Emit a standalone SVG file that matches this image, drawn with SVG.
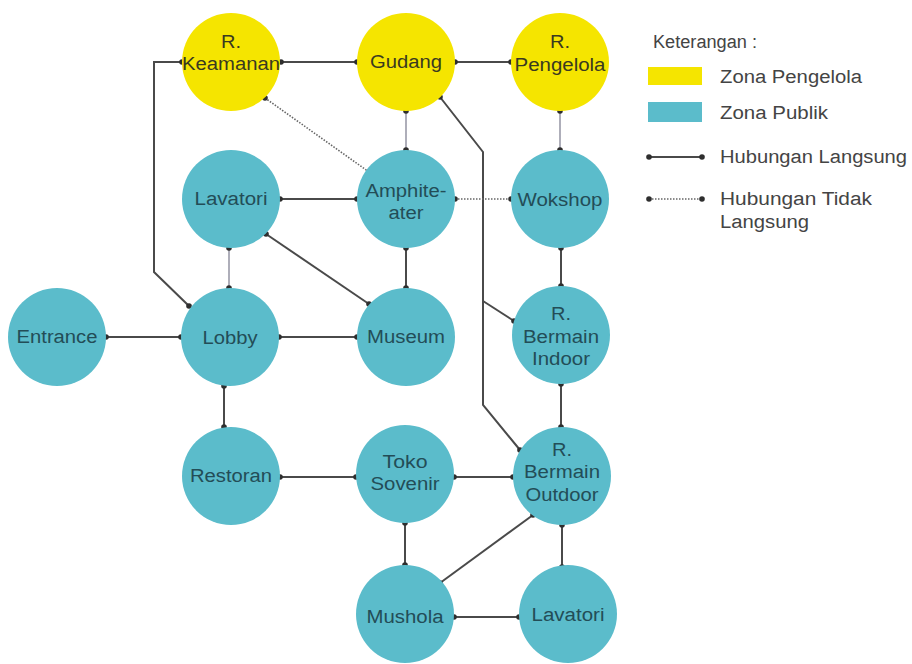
<svg xmlns="http://www.w3.org/2000/svg" width="912" height="664" viewBox="0 0 912 664">
<defs>
<marker id="dot" viewBox="0 0 6 6" refX="3" refY="3" markerWidth="6" markerHeight="6" markerUnits="userSpaceOnUse">
<circle cx="3" cy="3" r="2.8" fill="#2e2e2e"/>
</marker>
</defs>
<style>
.y{fill:#f5e500}
.t{fill:#5bbccb}
.lbl{font-family:"Liberation Sans",Arial,sans-serif;font-size:18px;text-anchor:middle}
.ly{fill:#3a3a20}
.lt{fill:#234d57}
.solid{fill:none;stroke:#4a4a4a;stroke-width:2;marker-start:url(#dot);marker-end:url(#dot)}
.thin{fill:none;stroke:#8c8c9c;stroke-width:1.4;marker-start:url(#dot);marker-end:url(#dot)}
.dotted{fill:none;stroke:#666;stroke-width:1.6;stroke-dasharray:1.5 1.5;marker-start:url(#dot);marker-end:url(#dot)}
.leg{font-family:"Liberation Sans",Arial,sans-serif;font-size:18px;fill:#444}
</style>
<rect width="912" height="664" fill="#ffffff"/>
<g id="connectors">
<path class="solid" d="M281,62 H357"/>
<path class="solid" d="M455,62 H511"/>
<path class="solid" d="M182,62 H154 V272 L189,306"/>
<path class="dotted" d="M265,98 L369,172"/>
<path class="thin" d="M406,111 V150"/>
<path class="thin" d="M560,111 V150"/>
<path class="solid" d="M440,97 L483,152 V405 L520,450"/>
<path class="solid" d="M483,301 L514,321" style="marker-start:none"/>
<path class="solid" d="M280,199 H357"/>
<path class="dotted" d="M455,199 H511"/>
<path class="thin" d="M229,248 V288"/>
<path class="solid" d="M266,234 L369,304"/>
<path class="solid" d="M406,248 V288"/>
<path class="solid" d="M561,248 V286"/>
<path class="solid" d="M106,337 H181"/>
<path class="solid" d="M279,337 H357"/>
<path class="solid" d="M561,384 V427"/>
<path class="solid" d="M224,386 V427"/>
<path class="solid" d="M280,477 H356"/>
<path class="solid" d="M454,477 H513"/>
<path class="solid" d="M405,523 V565"/>
<path class="solid" d="M533,515 L440,583"/>
<path class="solid" d="M562,525 V567"/>
<path class="solid" d="M454,617 H519"/>
</g>
<g id="n-keamanan"><circle class="y" cx="231" cy="62" r="49"/><text class="lbl ly" x="231" y="48" textLength="20" lengthAdjust="spacingAndGlyphs">R.</text><text class="lbl ly" x="231" y="70" textLength="98" lengthAdjust="spacingAndGlyphs">Keamanan</text></g>
<g id="n-gudang"><circle class="y" cx="406" cy="62" r="49"/><text class="lbl ly" x="406" y="68" textLength="72" lengthAdjust="spacingAndGlyphs">Gudang</text></g>
<g id="n-pengelola"><circle class="y" cx="560" cy="62" r="49"/><text class="lbl ly" x="560" y="48" textLength="20" lengthAdjust="spacingAndGlyphs">R.</text><text class="lbl ly" x="560" y="71" textLength="91" lengthAdjust="spacingAndGlyphs">Pengelola</text></g>
<g id="n-lavatori1"><circle class="t" cx="231" cy="199" r="49"/><text class="lbl lt" x="231" y="205" textLength="73" lengthAdjust="spacingAndGlyphs">Lavatori</text></g>
<g id="n-amphiteater"><circle class="t" cx="406" cy="199" r="49"/><text class="lbl lt" x="406" y="197" textLength="81" lengthAdjust="spacingAndGlyphs">Amphite-</text><text class="lbl lt" x="406" y="219" textLength="35" lengthAdjust="spacingAndGlyphs">ater</text></g>
<g id="n-wokshop"><circle class="t" cx="560" cy="199" r="49"/><text class="lbl lt" x="560" y="206" textLength="85" lengthAdjust="spacingAndGlyphs">Wokshop</text></g>
<g id="n-entrance"><circle class="t" cx="57" cy="337" r="49"/><text class="lbl lt" x="57" y="343" textLength="81" lengthAdjust="spacingAndGlyphs">Entrance</text></g>
<g id="n-lobby"><circle class="t" cx="230" cy="337" r="49"/><text class="lbl lt" x="230" y="344" textLength="55" lengthAdjust="spacingAndGlyphs">Lobby</text></g>
<g id="n-museum"><circle class="t" cx="406" cy="337" r="49"/><text class="lbl lt" x="406" y="343" textLength="78" lengthAdjust="spacingAndGlyphs">Museum</text></g>
<g id="n-indoor"><circle class="t" cx="561" cy="335" r="49"/><text class="lbl lt" x="561" y="320" textLength="20" lengthAdjust="spacingAndGlyphs">R.</text><text class="lbl lt" x="561" y="343" textLength="76" lengthAdjust="spacingAndGlyphs">Bermain</text><text class="lbl lt" x="561" y="365" textLength="58" lengthAdjust="spacingAndGlyphs">Indoor</text></g>
<g id="n-restoran"><circle class="t" cx="231" cy="476" r="49"/><text class="lbl lt" x="231" y="482" textLength="82" lengthAdjust="spacingAndGlyphs">Restoran</text></g>
<g id="n-toko"><circle class="t" cx="405" cy="474" r="49"/><text class="lbl lt" x="405" y="468" textLength="45" lengthAdjust="spacingAndGlyphs">Toko</text><text class="lbl lt" x="405" y="490" textLength="69" lengthAdjust="spacingAndGlyphs">Sovenir</text></g>
<g id="n-outdoor"><circle class="t" cx="562" cy="476" r="49"/><text class="lbl lt" x="562" y="456" textLength="20" lengthAdjust="spacingAndGlyphs">R.</text><text class="lbl lt" x="562" y="478" textLength="76" lengthAdjust="spacingAndGlyphs">Bermain</text><text class="lbl lt" x="562" y="501" textLength="73" lengthAdjust="spacingAndGlyphs">Outdoor</text></g>
<g id="n-mushola"><circle class="t" cx="405" cy="614" r="49"/><text class="lbl lt" x="405" y="623" textLength="77" lengthAdjust="spacingAndGlyphs">Mushola</text></g>
<g id="n-lavatori2"><circle class="t" cx="568" cy="614" r="49"/><text class="lbl lt" x="568" y="621" textLength="73" lengthAdjust="spacingAndGlyphs">Lavatori</text></g>
<g id="legend">
<text class="leg" x="653" y="48" textLength="104" lengthAdjust="spacingAndGlyphs">Keterangan :</text>
<rect x="648" y="67" width="54" height="18" fill="#f5e500"/>
<text class="leg" x="720" y="83" textLength="142" lengthAdjust="spacingAndGlyphs">Zona Pengelola</text>
<rect x="648" y="102" width="54" height="20" fill="#5bbccb"/>
<text class="leg" x="720" y="119" textLength="108" lengthAdjust="spacingAndGlyphs">Zona Publik</text>
<path class="solid" d="M649,157 H702"/>
<text class="leg" x="720" y="163" textLength="187" lengthAdjust="spacingAndGlyphs">Hubungan Langsung</text>
<path class="dotted" d="M649,199 H702"/>
<text class="leg" x="720" y="205" textLength="152" lengthAdjust="spacingAndGlyphs">Hubungan Tidak</text>
<text class="leg" x="720" y="228" textLength="89" lengthAdjust="spacingAndGlyphs">Langsung</text>
</g>
</svg>
